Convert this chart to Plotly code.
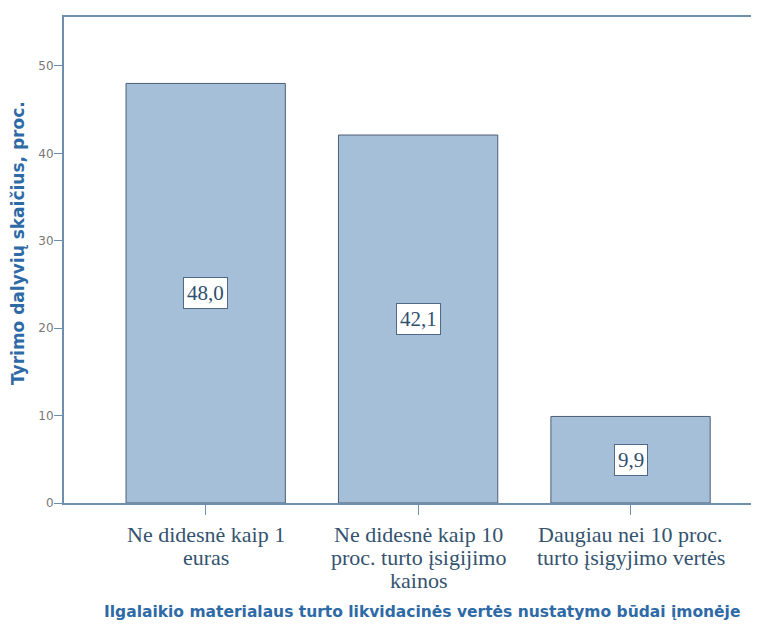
import plotly.graph_objects as go

categories = [
    "Ne didesnė kaip 1<br>euras",
    "Ne didesnė kaip 10<br>proc. turto įsigijimo<br>kainos",
    "Daugiau nei 10 proc.<br>turto įsigyjimo vertės",
]
values = [48.0, 42.1, 9.9]
value_labels = ["48,0", "42,1", "9,9"]
y_ticks = [0, 10, 20, 30, 40, 50]
x_title = "Ilgalaikio materialaus turto likvidacinės vertės nustatymo būdai įmonėje"
y_title = "Tyrimo dalyvių skaičius, proc."

axis_color = "#6f8fae"
title_color = "#2e6aa6"
serif_color = "#34536f"

fig = go.Figure()
fig.add_trace(go.Bar(
    x=list(range(len(categories))),
    y=values,
    width=0.75,
    marker=dict(color="#a6bfd8", line=dict(color="#4c5f74", width=1)),
    hoverinfo="skip",
))

# value labels in boxes at bar middles
for i, (v, lab) in enumerate(zip(values, value_labels)):
    fig.add_annotation(
        x=i, y=v / 2, text=lab, showarrow=False,
        font=dict(family="Liberation Serif", size=21, color="#2f4f70"),
        bgcolor="white", bordercolor="#4e6a88", borderwidth=1, borderpad=3,
    )

# category labels, one annotation per line (tight line spacing)
for i, cat in enumerate(categories):
    for j, line in enumerate(cat.split("<br>")):
        fig.add_annotation(
            x=i, xref="x", y=0, yref="paper",
            yanchor="middle", yshift=-31 - 23 * j,
            text=line, showarrow=False,
            font=dict(family="Liberation Serif", size=22, color=serif_color),
        )

fig.add_annotation(
    x=0.516, xref="paper", y=0, yref="paper", yanchor="middle", yshift=-109,
    text=x_title, showarrow=False,
    font=dict(family="DejaVu Sans", size=15.5, color=title_color, weight="bold"),
)
fig.add_annotation(
    x=0, xref="paper", xanchor="center", xshift=-46,
    y=0.535, yref="paper", yanchor="middle",
    text=y_title, textangle=-90, showarrow=False,
    font=dict(family="DejaVu Sans", size=17, color=title_color, weight="bold"),
)

fig.update_layout(
    width=759, height=624,
    margin=dict(l=56, r=8, t=7, b=129),
    plot_bgcolor="white", paper_bgcolor="white",
    showlegend=False,
    xaxis=dict(
        range=[-0.667, 2.6],
        tickmode="array",
        tickvals=list(range(len(categories))),
        ticktext=["" for _ in categories],
        ticks="outside", ticklen=10, tickcolor=axis_color, tickwidth=1,
        showline=True, linecolor=axis_color, linewidth=2, mirror=True,
        showgrid=False, zeroline=False,
    ),
    yaxis=dict(
        range=[0, 55.6],
        tickmode="array", tickvals=y_ticks,
        ticks="outside", ticklen=8, tickcolor=axis_color, tickwidth=1,
        ticklabelstandoff=-2,
        tickfont=dict(family="DejaVu Sans", size=12, color="#777777"),
        showline=True, linecolor=axis_color, linewidth=2, mirror=True,
        showgrid=False, zeroline=False,
    ),
)

fig.write_html("out.html")
